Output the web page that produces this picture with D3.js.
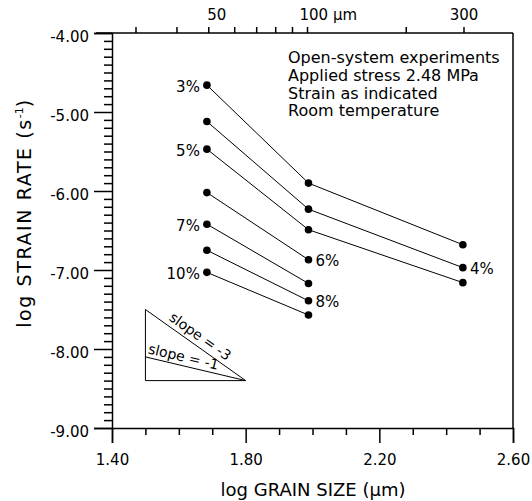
<!DOCTYPE html>
<html>
<head>
<meta charset="utf-8">
<script src="https://cdn.jsdelivr.net/npm/d3@7"></script>
<style>
  html, body { margin: 0; padding: 0; background: #fff; }
  svg { display: block; font-family: "DejaVu Sans", sans-serif; }
</style>
</head>
<body>
<svg id="chart" width="532" height="501"></svg>
<script>
// log grain size (µm) of the three sample groups
const grainLog = [1.684, 1.988, 2.450];

// strain levels and log strain rate (s^-1) at each grain size
const strainLabels = ["3%", "4%", "5%", "6%", "7%", "8%", "10%"];
const strainRates = [
  [-4.66, -5.90, -6.68],
  [-5.12, -6.23, -6.97],
  [-5.47, -6.49, -7.16],
  [-6.02, -6.87],
  [-6.42, -7.17],
  [-6.75, -7.39],
  [-7.03, -7.57]
];
// which end of each curve carries its strain label
const labelEnd = ["first", "last", "first", "last", "first", "last", "first"];

// axis ticks
const xMajorTicks = [1.40, 1.80, 2.20, 2.60];
const xMinorTicks = [1.5, 1.6, 1.7, 1.9, 2.0, 2.1, 2.3, 2.4, 2.5];
const yMajorTicks = [-4, -5, -6, -7, -8, -9];
const topTicks = [30, 40, 50, 60, 70, 80, 90, 100, 200, 300];
const topTickLabels = [[50, "50"], [100, "100 µm"], [300, "300"]];

// reference slope triangle (log grain size, log strain rate)
const triX = [1.5, 1.8];
const triTop = -7.5, triBase = -8.4, triMid = -8.1;

const infoLines = ["Open-system experiments", "Applied stress 2.48 MPa", "Strain as indicated", "Room temperature"];

const FONT = "DejaVu Sans, sans-serif";
const fmt = d => d.toFixed(2);   // plain hyphen-minus
const svg = d3.select("#chart");
const pLeft = 112, pRight = 513, pTop = 33, pBottom = 428;

const x = d3.scaleLinear().domain([1.4, 2.6]).range([pLeft, pRight]);
const y = d3.scaleLinear().domain([-9, -4]).range([pBottom, pTop]);
const xTop = d3.scaleLog().domain([Math.pow(10, 1.4), Math.pow(10, 2.6)]).range([110.7, 504.3]);

// frame: right edge
svg.append("line").attr("x1", pRight).attr("x2", pRight).attr("y1", pTop).attr("y2", pBottom)
  .attr("stroke", "#000").attr("stroke-width", 1.5);

// bottom axis
const bottomAxis = svg.append("g").attr("transform", `translate(0,${pBottom})`);
bottomAxis.call(d3.axisBottom(x).tickValues(xMajorTicks).tickSize(15).tickPadding(11).tickFormat(fmt));
bottomAxis.append("g").call(d3.axisBottom(x).tickValues(xMinorTicks).tickSize(7).tickFormat(""))
  .select(".domain").remove();
bottomAxis.selectAll(".domain").attr("stroke-width", 1.5);
bottomAxis.selectAll(".tick line").attr("stroke-width", 1.5);
bottomAxis.selectAll("text").attr("font-size", 15).attr("fill", "#000").attr("font-family", FONT);

// left axis
const leftAxis = svg.append("g").attr("transform", `translate(${pLeft},0)`);
leftAxis.call(d3.axisLeft(y).tickValues(yMajorTicks).tickSize(18).tickPadding(5).tickFormat(fmt));
const yMinor = d3.range(-90, -40).map(v => v / 10).filter(v => Math.abs(v - Math.round(v)) > 1e-6);
leftAxis.append("g").call(d3.axisLeft(y).tickValues(yMinor).tickSize(8).tickFormat(""))
  .select(".domain").remove();
leftAxis.selectAll(".domain").attr("stroke-width", 1.5);
leftAxis.selectAll(".tick line").attr("stroke-width", 1.5);
leftAxis.selectAll("text").attr("font-size", 15).attr("fill", "#000").attr("font-family", FONT)
  .attr("dy", "0.55em");

// top axis (grain size in µm, log scale)
const topAxis = svg.append("g");
topAxis.append("line").attr("x1", 96).attr("x2", pRight).attr("y1", pTop).attr("y2", pTop)
  .attr("stroke", "#000").attr("stroke-width", 1.5);
topAxis.selectAll("line.tt").data(topTicks).enter().append("line").attr("class", "tt")
  .attr("x1", d => xTop(d)).attr("x2", d => xTop(d))
  .attr("y1", pTop).attr("y2", pTop - 6)
  .attr("stroke", "#000").attr("stroke-width", 1.5);
topAxis.selectAll("text").data(topTickLabels).enter().append("text")
  .attr("x", d => d[1] === "100 µm" ? xTop(d[0]) - 8 : xTop(d[0]) + (d[0] === 50 ? 8 : 0))
  .attr("y", 20)
  .attr("text-anchor", d => d[1] === "100 µm" ? "start" : "middle")
  .attr("font-size", 15).attr("fill", "#000").text(d => d[1]);

// axis titles
svg.append("text").attr("x", 313).attr("y", 496).attr("text-anchor", "middle")
  .attr("font-size", 18).text("log GRAIN SIZE (µm)");
const yTitle = svg.append("text").attr("transform", "translate(31,213) rotate(-90)")
  .attr("text-anchor", "middle").attr("font-size", 19).attr("letter-spacing", 1.6);
yTitle.append("tspan").text("log STRAIN RATE (s");
yTitle.append("tspan").attr("font-size", 11).attr("letter-spacing", 0).attr("dy", -8).text("-1");
yTitle.append("tspan").attr("dy", 8).text(")");

// strain curves
const line = d3.line().x((d, i) => x(grainLog[i])).y(d => y(d));
const series = svg.append("g");
strainRates.forEach((vals, k) => {
  series.append("path").attr("d", line(vals)).attr("fill", "none")
    .attr("stroke", "#000").attr("stroke-width", 1);
  series.selectAll(null).data(vals).enter().append("circle")
    .attr("cx", (d, i) => x(grainLog[i])).attr("cy", d => y(d)).attr("r", 3.8).attr("fill", "#000");
  const last = vals.length - 1;
  const idx = labelEnd[k] === "first" ? 0 : last;
  series.append("text")
    .attr("x", x(grainLog[idx]) + (idx === 0 ? -7 : 7))
    .attr("y", y(vals[idx]) + 6.5)
    .attr("text-anchor", idx === 0 ? "end" : "start")
    .attr("font-size", 15).text(strainLabels[k]);
});

// slope triangle
const tri = svg.append("g").attr("fill", "none").attr("stroke", "#000").attr("stroke-width", 1);
tri.append("path").attr("d", d3.line()([
  [x(triX[0]), y(triTop)], [x(triX[0]), y(triBase)], [x(triX[1]), y(triBase)], [x(triX[0]), y(triTop)]
]));
tri.append("line").attr("x1", x(triX[0])).attr("y1", y(triMid)).attr("x2", x(triX[1])).attr("y2", y(triBase));

function slopeLabel(y0, t, txt, off) {
  const x0 = x(triX[0]), x1 = x(triX[1]), ya = y(y0), yb = y(triBase);
  const ang = Math.atan2(yb - ya, x1 - x0) * 180 / Math.PI;
  const px = x0 + t * (x1 - x0), py = ya + t * (yb - ya);
  svg.append("text").attr("transform", `translate(${px},${py}) rotate(${ang})`)
    .attr("text-anchor", "middle").attr("dy", off).attr("font-size", 14).text(txt);
}
slopeLabel(triTop, 0.49, "slope = -3", -5);
slopeLabel(triMid, 0.36, "slope = -1", -4);

// legend text
svg.append("g").selectAll("text").data(infoLines).enter().append("text")
  .attr("x", 288).attr("y", (d, i) => 63 + i * 17.8).attr("font-size", 16).text(d => d);
</script>
</body>
</html>
